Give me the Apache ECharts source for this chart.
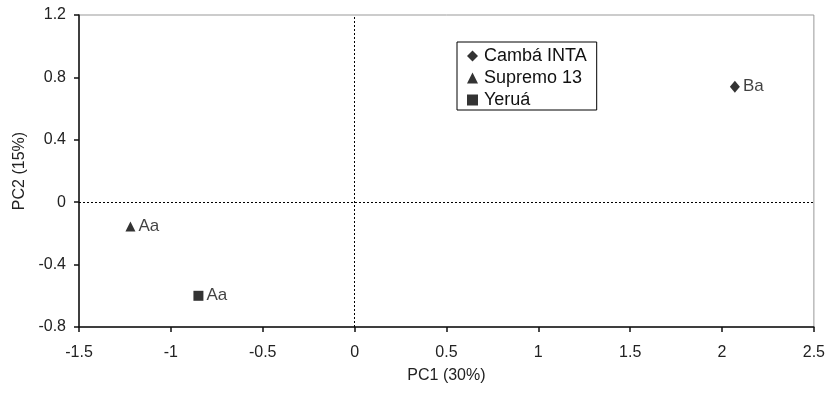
<!DOCTYPE html>
<html>
<head>
<meta charset="utf-8">
<script src="https://cdn.jsdelivr.net/npm/echarts@6/dist/echarts.min.js"></script>
<style>
  html, body { margin: 0; padding: 0; background: #fff; }
  #chart { width: 828px; height: 393px; }
</style>
</head>
<body>
<div id="chart"></div>
<script>
const cultivars = ['Cambá INTA', 'Supremo 13', 'Yeruá']
const pc1 = [2.07, -1.22, -0.85]
const pc2 = [0.74, -0.155, -0.60]
const groups = ['Ba', 'Aa', 'Aa']
const shapes = ['diamond', 'triangle', 'rect']
const sizes = [[10, 12], [10, 10], [10, 10]]
const xTicks = [-1.5, -1, -0.5, 0, 0.5, 1, 1.5, 2, 2.5]
const yTicks = [-0.8, -0.4, 0, 0.4, 0.8, 1.2]

const font = 'Liberation Sans, Arial, sans-serif'
const chart = echarts.init(document.getElementById('chart'))

const series = cultivars.map((name, i) => ({
  name: name,
  type: 'scatter',
  symbol: shapes[i],
  symbolSize: sizes[i],
  itemStyle: { color: '#000' },
  label: {
    show: true,
    position: 'right',
    distance: 3,
    formatter: groups[i],
    color: '#111',
    fontSize: 17,
    fontFamily: font
  },
  data: [[pc1[i], pc2[i]]]
}))

// dotted zero lines
series.push({
  type: 'line',
  data: [],
  silent: true,
  markLine: {
    symbol: 'none',
    silent: true,
    label: { show: false },
    lineStyle: { color: '#000', type: [2, 2], width: 1 },
    data: [{ xAxis: 0 }, { yAxis: 0 }]
  }
})

chart.setOption({
  animation: false,
  textStyle: { fontFamily: font },
  grid: {
    left: 79, right: 13, top: 15, bottom: 66,
    show: true,
    borderColor: '#999',
    borderWidth: 1
  },
  legend: {
    data: cultivars.map((n, i) => ({ name: n, icon: shapes[i] })),
    orient: 'vertical',
    left: 457,
    top: 42,
    borderColor: '#000',
    borderWidth: 1,
    padding: [5, 10, 1, 10],
    itemGap: 4,
    itemWidth: 11,
    itemHeight: 11,
    itemStyle: { color: '#000' },
    textStyle: { fontSize: 18, color: '#111', fontFamily: font, padding: [0, 0, 0, 1] }
  },
  xAxis: {
    type: 'value',
    min: -1.5, max: 2.5, interval: 0.5,
    name: 'PC1 (30%)',
    nameLocation: 'middle',
    nameGap: 41,
    nameTextStyle: { fontSize: 16, color: '#222' },
    axisLine: { show: true, onZero: false, lineStyle: { color: '#111', width: 1.5 } },
    axisTick: { show: true, length: 5, lineStyle: { color: '#111', width: 1.5 } },
    axisLabel: {
      fontSize: 16, color: '#222', margin: 18,
      formatter: v => xTicks.includes(v) ? String(v) : ''
    },
    splitLine: { show: false }
  },
  yAxis: {
    type: 'value',
    min: -0.8, max: 1.2, interval: 0.4,
    name: 'PC2 (15%)',
    nameLocation: 'middle',
    nameGap: 47,
    nameRotate: 90,
    nameTextStyle: { fontSize: 16, color: '#222' },
    axisLine: { show: true, onZero: false, lineStyle: { color: '#111', width: 1.5 } },
    axisTick: { show: true, length: 5, lineStyle: { color: '#111', width: 1.5 } },
    axisLabel: {
      fontSize: 16, color: '#222', margin: 13,
      formatter: v => {
        const t = yTicks.find(y => Math.abs(y - v) < 1e-6)
        return t === undefined ? '' : String(t)
      }
    },
    splitLine: { show: false }
  },
  series: series
})
</script>
</body>
</html>
